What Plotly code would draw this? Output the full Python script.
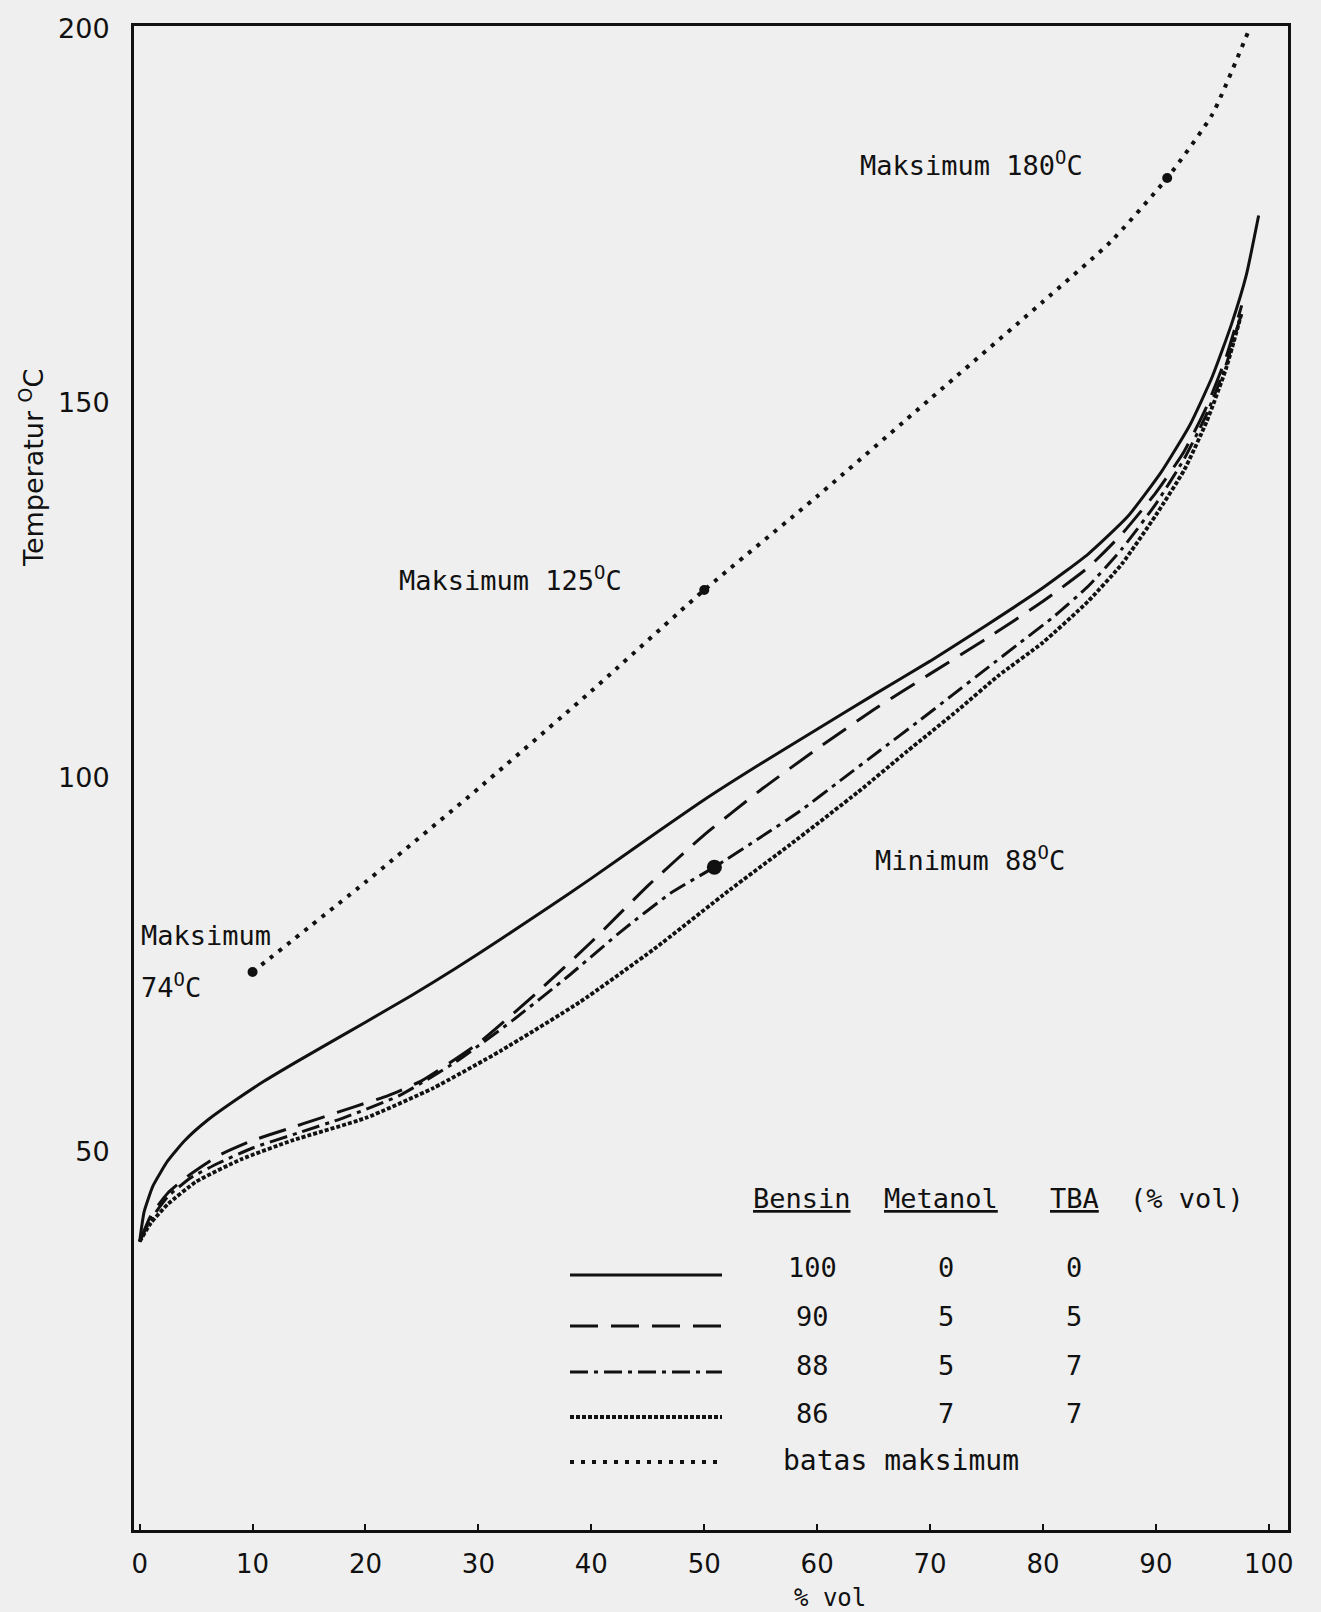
import plotly.graph_objects as go

# ---------------- data ----------------
x_bensin100 = [0, 0.4, 1.2, 2.5, 4, 6, 8.5, 11, 14, 17, 20, 24, 28, 32, 36, 40, 45, 50, 55, 60,
               65, 70, 75, 80, 84, 87.5, 90.5, 93, 95, 96.7, 98, 99.1]
y_bensin100 = [38, 42, 45.5, 48.8, 51.5, 54.2, 56.9, 59.4, 62.1, 64.7, 67.3, 70.8, 74.5, 78.4, 82.4, 86.5, 91.8, 97, 101.8, 106.4,
               111, 115.5, 120.3, 125.3, 129.8, 134.8, 140.8, 147, 153.5, 160.5, 167, 175]

x_b90 = [0, 1, 2.5, 4.5, 7, 10, 13, 16, 19, 22, 25, 30, 35, 40, 45, 50, 55, 60, 65, 70,
         75, 80, 84, 87, 90, 92.5, 94.5, 96.2, 97.6]
y_b90 = [38, 41.5, 44.5, 47, 49.5, 51.5, 53, 54.5, 56, 57.5, 59.5, 64.5, 71, 78, 85.5, 92.3, 98.3, 103.8, 109, 113.8,
         118.5, 123.5, 128, 132.5, 138, 143.5, 149.5, 156, 163]

x_b88 = [0, 1, 2.5, 4.5, 7, 10, 14, 18, 23, 28, 33, 38, 42.7, 47, 50.9, 55, 58.5, 62, 65.5, 69, 72,
         75, 78, 81, 84, 87, 90, 92.5, 94.5, 96.2, 97.6]
y_b88 = [38, 41, 44, 46.5, 48.5, 50.5, 52.5, 54.5, 57.5, 62, 67.5, 73.5, 79.5, 84.5, 88, 92, 95.5, 99.5, 103.5, 107.5, 111,
         114.5, 118, 121.5, 125.5, 130.5, 136.5, 142.5, 148.5, 155, 162]

x_b86 = [0, 1, 2.5, 5, 9, 13.5, 20, 26, 32, 39, 45.5, 52.3, 57.6, 63.6, 68, 72.5, 76, 80, 84, 87,
         90, 92.5, 94.5, 96.2, 97.6]
y_b86 = [38, 40.5, 43, 46, 49, 51.5, 54.5, 58.5, 63.5, 70, 77, 85, 91, 98, 103.5, 109, 113.5, 118, 123.5, 128.5,
         135, 141, 147.5, 154.5, 162]

x_batas = [10, 20, 30, 40, 50, 60, 70, 80, 86, 91, 95, 98.3]
y_batas = [74, 86, 98.5, 111.5, 125, 137.5, 150.5, 163.5, 171.5, 180, 188.5, 200]

x_spec_max = [10, 50, 91]
y_spec_max = [74, 125, 180]
x_spec_min = [50.9]
y_spec_min = [88]

x_ticks = [0, 10, 20, 30, 40, 50, 60, 70, 80, 90, 100]
y_ticks = [50, 100, 150, 200]

legend_rows = [["100", "0", "0"], ["90", "5", "5"], ["88", "5", "7"], ["86", "7", "7"]]
legend_header = ["Bensin", "Metanol", "TBA", "(% vol)"]

# ---------------- styles ----------------
INK = "#111111"
BG = "#efefef"
MONO = "DejaVu Sans Mono"
SANS = "DejaVu Sans"
DASH_LONG = "28px,13px"
DASH_DOT = "18px,6px,4px,6px"
DASH_X = "4px,2px"
DASH_DOTTED = "4px,7px"
LW = 3

fig = go.Figure()
series = [
    (x_bensin100, y_bensin100, "solid", LW),
    (x_b90, y_b90, DASH_LONG, LW),
    (x_b88, y_b88, DASH_DOT, LW),
    (x_b86, y_b86, DASH_X, 3.8),
    (x_batas, y_batas, DASH_DOTTED, 4),
]
for xs, ys, dash, w in series:
    fig.add_trace(go.Scatter(x=xs, y=ys, mode="lines",
                             line=dict(color=INK, width=w, dash=dash, shape="spline", smoothing=0.5),
                             showlegend=False, hoverinfo="skip"))

fig.add_trace(go.Scatter(x=x_spec_max, y=y_spec_max, mode="markers", marker=dict(color=INK, size=10),
                         showlegend=False, hoverinfo="skip"))
fig.add_trace(go.Scatter(x=x_spec_min, y=y_spec_min, mode="markers", marker=dict(color=INK, size=15),
                         showlegend=False, hoverinfo="skip"))

# ---------------- layout geometry (pixels) ----------------
W, H = 1321, 1612
L, R, T, B = 134, 1288, 26, 1530


def px(X):
    return (X - L) / (R - L)


def py(Y):
    return (B - Y) / (B - T)


annotations = []


def text(t, X, Y, size=27, anchor="left", font=MONO, angle=0):
    annotations.append(dict(text=t, x=px(X), y=py(Y), xref="paper", yref="paper", xanchor=anchor, yanchor="middle",
                            showarrow=False, textangle=angle, font=dict(family=font, size=size, color=INK)))


text("Maksimum", 139, 935)
text("74<sup>O</sup>C", 139, 985)
text("Maksimum 125<sup>O</sup>C", 397, 578)
text("Maksimum 180<sup>O</sup>C", 1085, 163, anchor="right")
text("Minimum 88<sup>O</sup>C", 873, 858)

# legend table
hdr_x = [802, 941, 1074, 1187]
for i, h in enumerate(legend_header):
    t = h if i == 3 else "<u>" + h + "</u>"
    text(t, hdr_x[i], 1198, anchor="center")
col_x = [812, 946, 1074]
row_y = [1267, 1316, 1365, 1413]
for r, row in enumerate(legend_rows):
    for c, v in enumerate(row):
        text(v, col_x[c], row_y[r], anchor="center")
text("batas maksimum", 781, 1460, size=28)

# axis titles
text("Temperatur <sup>O</sup>C", 31, 468, size=27, anchor="center", font=SANS, angle=-90)
text("% vol", 830, 1598, size=24, anchor="center")

shapes = []
sample_y = [1275, 1326, 1372, 1417, 1462]
sample_style = [("solid", LW), (DASH_LONG, LW), (DASH_DOT, LW), (DASH_X, 3.8), (DASH_DOTTED, 4)]
for yy, (dash, w) in zip(sample_y, sample_style):
    shapes.append(dict(type="line", xref="paper", yref="paper", x0=px(570), x1=px(722), y0=py(yy), y1=py(yy),
                       line=dict(color=INK, width=w, dash=dash)))

fig.update_layout(
    width=W, height=H, autosize=False,
    margin=dict(l=L, r=W - R, t=T, b=H - B, pad=0),
    paper_bgcolor=BG, plot_bgcolor=BG,
    annotations=annotations, shapes=shapes,
    xaxis=dict(range=[-0.5, 101.7], tickvals=x_ticks, ticks="inside", ticklen=6, tickwidth=2, tickcolor=INK,
               showline=True, linewidth=3, linecolor=INK, mirror=True, showgrid=False, zeroline=False,
               tickfont=dict(family=SANS, size=26, color=INK), ticklabelstandoff=9),
    yaxis=dict(range=[-0.5, 200.3], tickvals=y_ticks, ticks="", showline=True, linewidth=3, linecolor=INK,
               mirror=True, showgrid=False, zeroline=False, tickfont=dict(family=SANS, size=27, color=INK),
               ticklabelstandoff=16),
)

fig.write_html("out.html", config={"displayModeBar": False},
               post_script="document.body.style.margin='0px';document.body.style.background='#efefef';")
